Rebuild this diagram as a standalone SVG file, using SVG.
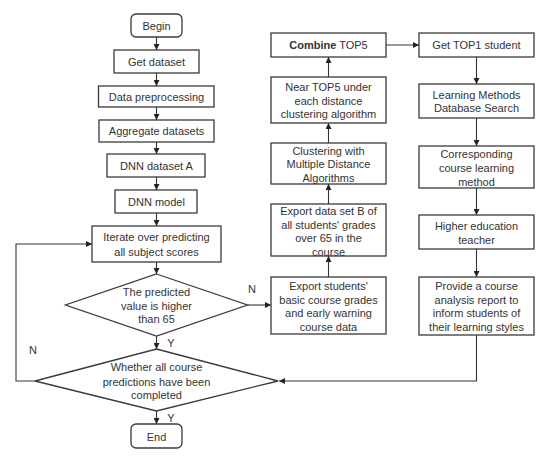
<svg xmlns="http://www.w3.org/2000/svg" width="550" height="460" viewBox="0 0 550 460">
<style>
.box{fill:#fff;stroke:#3a3a3a;stroke-width:1.3}
.t{font-family:"Liberation Sans",Arial,sans-serif;font-size:11px;fill:#333;text-anchor:middle}
.c{fill:none;stroke:#333;stroke-width:1.1}
</style>
<defs>
<marker id="ah" markerUnits="userSpaceOnUse" markerWidth="7" markerHeight="6" refX="6" refY="3" orient="auto">
<path d="M0,0 L6,3 L0,6 Z" fill="#222"/>
</marker>
</defs>
<rect width="550" height="460" fill="#fff"/>
<g id="connectors">
<line class="c" x1="156.5" y1="37" x2="156.5" y2="50" marker-end="url(#ah)"/>
<line class="c" x1="156.5" y1="73" x2="156.5" y2="86" marker-end="url(#ah)"/>
<line class="c" x1="156.5" y1="107" x2="156.5" y2="120" marker-end="url(#ah)"/>
<line class="c" x1="156.5" y1="142" x2="156.5" y2="154" marker-end="url(#ah)"/>
<line class="c" x1="156.5" y1="177" x2="156.5" y2="190" marker-end="url(#ah)"/>
<line class="c" x1="156.5" y1="213" x2="156.5" y2="226" marker-end="url(#ah)"/>
<line class="c" x1="156.5" y1="262" x2="156.5" y2="274" marker-end="url(#ah)"/>
<line class="c" x1="156.5" y1="336" x2="156.5" y2="349" marker-end="url(#ah)"/>
<line class="c" x1="156.5" y1="411" x2="156.5" y2="424" marker-end="url(#ah)"/>
<line class="c" x1="247.5" y1="305" x2="271" y2="305" marker-end="url(#ah)"/>
<line class="c" x1="328.5" y1="277" x2="328.5" y2="256" marker-end="url(#ah)"/>
<line class="c" x1="328.5" y1="204" x2="328.5" y2="184" marker-end="url(#ah)"/>
<line class="c" x1="328.5" y1="143" x2="328.5" y2="123" marker-end="url(#ah)"/>
<line class="c" x1="328.5" y1="77" x2="328.5" y2="57" marker-end="url(#ah)"/>
<line class="c" x1="386" y1="45" x2="419" y2="45" marker-end="url(#ah)"/>
<line class="c" x1="476.5" y1="57" x2="476.5" y2="84" marker-end="url(#ah)"/>
<line class="c" x1="476.5" y1="118" x2="476.5" y2="146" marker-end="url(#ah)"/>
<line class="c" x1="476.5" y1="188" x2="476.5" y2="215" marker-end="url(#ah)"/>
<line class="c" x1="476.5" y1="249" x2="476.5" y2="277" marker-end="url(#ah)"/>
<polyline class="c" points="476.5,335 476.5,381 279,381" marker-end="url(#ah)"/>
<polyline class="c" points="35,381 16,381 16,244 92,244" marker-end="url(#ah)"/>
<text class="t" x="252" y="293">N</text>
<text class="t" x="33" y="354">N</text>
<text class="t" x="171" y="347">Y</text>
<text class="t" x="171" y="422">Y</text>
</g>
<g id="begin"><rect class="box" x="131" y="14" width="51" height="23" rx="5"/><text class="t" x="156.5" y="30">Begin</text></g>
<g id="get-dataset"><rect class="box" x="114" y="50" width="85" height="23"/><text class="t" x="156.5" y="66">Get dataset</text></g>
<g id="data-preprocessing"><rect class="box" x="98.5" y="86" width="115.5" height="21"/><text class="t" x="156.5" y="101">Data preprocessing</text></g>
<g id="aggregate"><rect class="box" x="99" y="120" width="115" height="22"/><text class="t" x="156.5" y="135">Aggregate datasets</text></g>
<g id="dnn-dataset"><rect class="box" x="107" y="154" width="98" height="23"/><text class="t" x="156.5" y="170">DNN dataset A</text></g>
<g id="dnn-model"><rect class="box" x="115" y="190" width="82" height="23"/><text class="t" x="156.5" y="206">DNN model</text></g>
<g id="iterate"><rect class="box" x="92" y="226" width="129" height="36"/><text class="t" x="156.5" y="241">Iterate over predicting</text><text class="t" x="156.5" y="256">all subject scores</text></g>
<g id="decision-65"><polygon class="box" points="156.5,274 247.5,305 156.5,336 65.5,305"/><text class="t" x="156.5" y="296">The predicted</text><text class="t" x="156.5" y="310">value is higher</text><text class="t" x="156.5" y="323">than 65</text></g>
<g id="decision-all"><polygon class="box" points="156.5,349 278,381 156.5,411 35,381"/><text class="t" x="156.5" y="371">Whether all course</text><text class="t" x="156.5" y="386">predictions have been</text><text class="t" x="156.5" y="399">completed</text></g>
<g id="end"><rect class="box" x="131" y="424" width="51" height="24" rx="5"/><text class="t" x="156.5" y="441">End</text></g>
<g id="export-students"><rect class="box" x="271" y="277" width="115" height="57"/><text class="t" x="328.5" y="290">Export students'</text><text class="t" x="328.5" y="304">basic course grades</text><text class="t" x="328.5" y="317">and early warning</text><text class="t" x="328.5" y="331">course data</text></g>
<g id="export-b"><rect class="box" x="271" y="204" width="115" height="52"/><text class="t" x="328.5" y="215">Export data set B of</text><text class="t" x="328.5" y="229">all students' grades</text><text class="t" x="328.5" y="242">over 65 in the</text><text class="t" x="328.5" y="256">course</text></g>
<g id="clustering"><rect class="box" x="271" y="143" width="115" height="41"/><text class="t" x="328.5" y="155">Clustering with</text><text class="t" x="328.5" y="168">Multiple Distance</text><text class="t" x="328.5" y="182">Algorithms</text></g>
<g id="near-top5"><rect class="box" x="271" y="77" width="115" height="46"/><text class="t" x="328.5" y="91">Near TOP5 under</text><text class="t" x="328.5" y="105">each distance</text><text class="t" x="328.5" y="118">clustering algorithm</text></g>
<g id="combine"><rect class="box" x="271" y="33" width="115" height="24"/><text class="t" x="328.5" y="49"><tspan font-weight="bold">Combine</tspan> TOP5</text></g>
<g id="get-top1"><rect class="box" x="419" y="33" width="115" height="24"/><text class="t" x="476.5" y="49">Get TOP1 student</text></g>
<g id="learning-methods"><rect class="box" x="419" y="84" width="115" height="34"/><text class="t" x="476.5" y="99">Learning Methods</text><text class="t" x="476.5" y="112">Database Search</text></g>
<g id="corresponding"><rect class="box" x="419" y="146" width="115" height="42"/><text class="t" x="476.5" y="158">Corresponding</text><text class="t" x="476.5" y="172">course learning</text><text class="t" x="476.5" y="186">method</text></g>
<g id="teacher"><rect class="box" x="419" y="215" width="115" height="34"/><text class="t" x="476.5" y="230">Higher education</text><text class="t" x="476.5" y="244">teacher</text></g>
<g id="report"><rect class="box" x="419" y="277" width="115" height="58"/><text class="t" x="476.5" y="290">Provide a course</text><text class="t" x="476.5" y="304">analysis report to</text><text class="t" x="476.5" y="317">inform students of</text><text class="t" x="476.5" y="331">their learning styles</text></g>
</svg>
